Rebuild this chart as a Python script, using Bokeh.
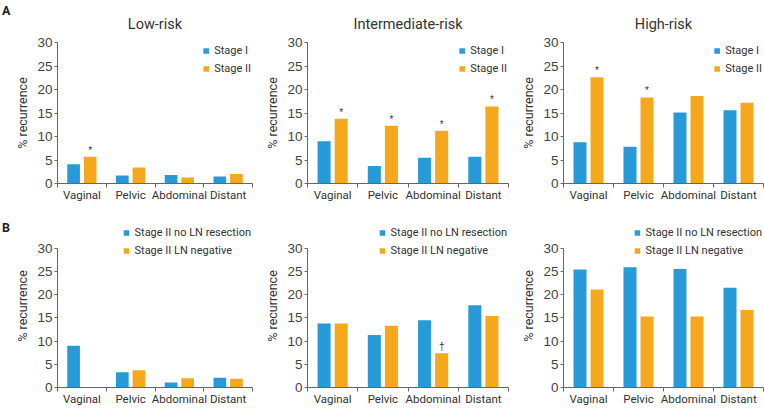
from bokeh.plotting import figure
from bokeh.layouts import column, row
from bokeh.models import Range1d, FixedTicker, Legend, LegendItem, ColumnDataSource, Div
from bokeh.transform import dodge
from bokeh.embed import file_html
from bokeh.resources import INLINE
from bokeh.core.properties import value

sites = ["Vaginal", "Pelvic", "Abdominal", "Distant"]
top_titles = ["Low-risk", "Intermediate-risk", "High-risk"]
top_series = ["Stage I", "Stage II"]
bottom_series = ["Stage II no LN resection", "Stage II LN negative"]
y_ticks = [0, 5, 10, 15, 20, 25, 30]
panel_tags = ["A", "B"]

low_stage1 = [4.1, 1.7, 1.8, 1.5]
low_stage2 = [5.7, 3.4, 1.3, 2.0]
int_stage1 = [9.0, 3.7, 5.5, 5.7]
int_stage2 = [13.8, 12.3, 11.2, 16.4]
high_stage1 = [8.8, 7.8, 15.1, 15.6]
high_stage2 = [22.6, 18.3, 18.6, 17.2]

low_noln = [9.0, 3.3, 1.1, 2.1]
low_lnneg = [0.0, 3.7, 2.0, 1.9]
int_noln = [13.8, 11.3, 14.5, 17.7]
int_lnneg = [13.8, 13.3, 7.4, 15.4]
high_noln = [25.4, 25.9, 25.5, 21.5]
high_lnneg = [21.1, 15.3, 15.3, 16.7]

low_marks = ["*", "", "", ""]
int_marks = ["*", "*", "*", "*"]
high_marks = ["*", "*", "", ""]
low_b_marks = ["", "", "", ""]
int_b_marks = ["", "", "\u2020", ""]
high_b_marks = ["", "", "", ""]

BLUE = "#279bd8"
ORANGE = "#f6a81c"
AXIS = "#666666"
TEXT = "#333333"
FONT = "Roboto"
NUM_FONT = "Liberation Sans"

ROW_H = 204
TAG_W = 12
# (figure width, left border, right border) for the three panels of a row
GEOM = [(246, 39, 6), (254, 49, 4), (252, 51, 1)]


def panel(idx, title, s1, s2, marks, names, top):
    w, left, right = GEOM[idx]
    y_end = 30 if top else 35.1
    p = figure(width=w, height=ROW_H, x_range=Range1d(0, 4), y_range=Range1d(0, y_end),
               output_backend="svg", toolbar_location=None,
               min_border_left=left, min_border_right=right,
               min_border_top=42 if top else 20, min_border_bottom=21 if top else 19)
    p.outline_line_color = None
    p.grid.visible = False
    centers = [i + 0.5 for i in range(len(sites))]
    src = ColumnDataSource(dict(x=centers, s1=s1, s2=s2, marks=marks))
    r1 = p.vbar(x=dodge("x", -0.17), top="s1", width=0.26, source=src,
                fill_color=BLUE, line_color=None)
    r2 = p.vbar(x=dodge("x", 0.17), top="s2", width=0.26, source=src,
                fill_color=ORANGE, line_color=None)
    p.text(x=dodge("x", 0.17), y="s2", text="marks", source=src,
           text_font=value(NUM_FONT), text_font_size="10px", text_color=TEXT,
           text_align="center", text_baseline="bottom", y_offset=-1)

    if title:
        p.title.text = title
        p.title.align = "center"
        p.title.text_font = FONT
        p.title.text_font_size = "14.5px"
        p.title.text_font_style = "normal"
        p.title.text_color = TEXT
        p.title.standoff = 20

    xa = p.xaxis[0]
    xa.ticker = FixedTicker(ticks=centers, minor_ticks=list(range(len(sites) + 1)))
    xa.major_label_overrides = {c: s for c, s in zip(centers, sites)}
    xa.major_tick_line_color = None
    xa.major_tick_out = 0
    xa.major_tick_in = 0
    xa.minor_tick_line_color = AXIS
    xa.minor_tick_out = 4
    xa.minor_tick_in = 0
    xa.axis_line_color = AXIS
    xa.major_label_standoff = 0
    xa.major_label_text_font = FONT
    xa.major_label_text_font_size = "11.5px"
    xa.major_label_text_color = TEXT

    ya = p.yaxis[0]
    ya.ticker = FixedTicker(ticks=y_ticks)
    ya.bounds = (0, 30)
    ya.minor_tick_line_color = None
    ya.major_tick_out = 3
    ya.major_tick_in = 0
    ya.major_tick_line_color = AXIS
    ya.axis_line_color = AXIS
    ya.major_label_standoff = 2
    ya.major_label_text_font = NUM_FONT
    ya.major_label_text_font_size = "13.5px"
    ya.major_label_text_color = "#444444"
    ya.axis_label = "% recurrence"
    ya.axis_label_text_font = FONT
    ya.axis_label_text_font_size = "12.5px"
    ya.axis_label_text_font_style = "normal"
    ya.axis_label_text_color = TEXT
    ya.axis_label_standoff = 4

    leg = Legend(items=[LegendItem(label=names[0], renderers=[r1]),
                        LegendItem(label=names[1], renderers=[r2])],
                 location="top_right", orientation="vertical",
                 label_text_font=FONT, label_text_font_size="11px",
                 label_text_color=TEXT, glyph_width=7, glyph_height=7,
                 label_height=14, label_standoff=5, spacing=4, padding=0, margin=1,
                 border_line_color=None, background_fill_alpha=0)
    p.add_layout(leg, "center")
    return p


def tag(text, pad_top):
    return Div(text=text, width=TAG_W, height=ROW_H, margin=0,
               styles={"font-family": FONT, "font-size": "12.5px", "font-weight": "bold",
                       "color": "#222222", "line-height": "1",
                       "padding-top": f"{pad_top}px", "padding-left": "2px",
                       "box-sizing": "border-box"})


top_s1 = [low_stage1, int_stage1, high_stage1]
top_s2 = [low_stage2, int_stage2, high_stage2]
top_m = [low_marks, int_marks, high_marks]
bot_s1 = [low_noln, int_noln, high_noln]
bot_s2 = [low_lnneg, int_lnneg, high_lnneg]
bot_m = [low_b_marks, int_b_marks, high_b_marks]

top_row = [tag(panel_tags[0], 5)] + [
    panel(i, top_titles[i], top_s1[i], top_s2[i], top_m[i], top_series, True)
    for i in range(3)]
bot_row = [tag(panel_tags[1], 18)] + [
    panel(i, None, bot_s1[i], bot_s2[i], bot_m[i], bottom_series, False)
    for i in range(3)]

layout = column(row(*top_row), row(*bot_row))
open("out.html", "w").write(file_html(layout, INLINE))
